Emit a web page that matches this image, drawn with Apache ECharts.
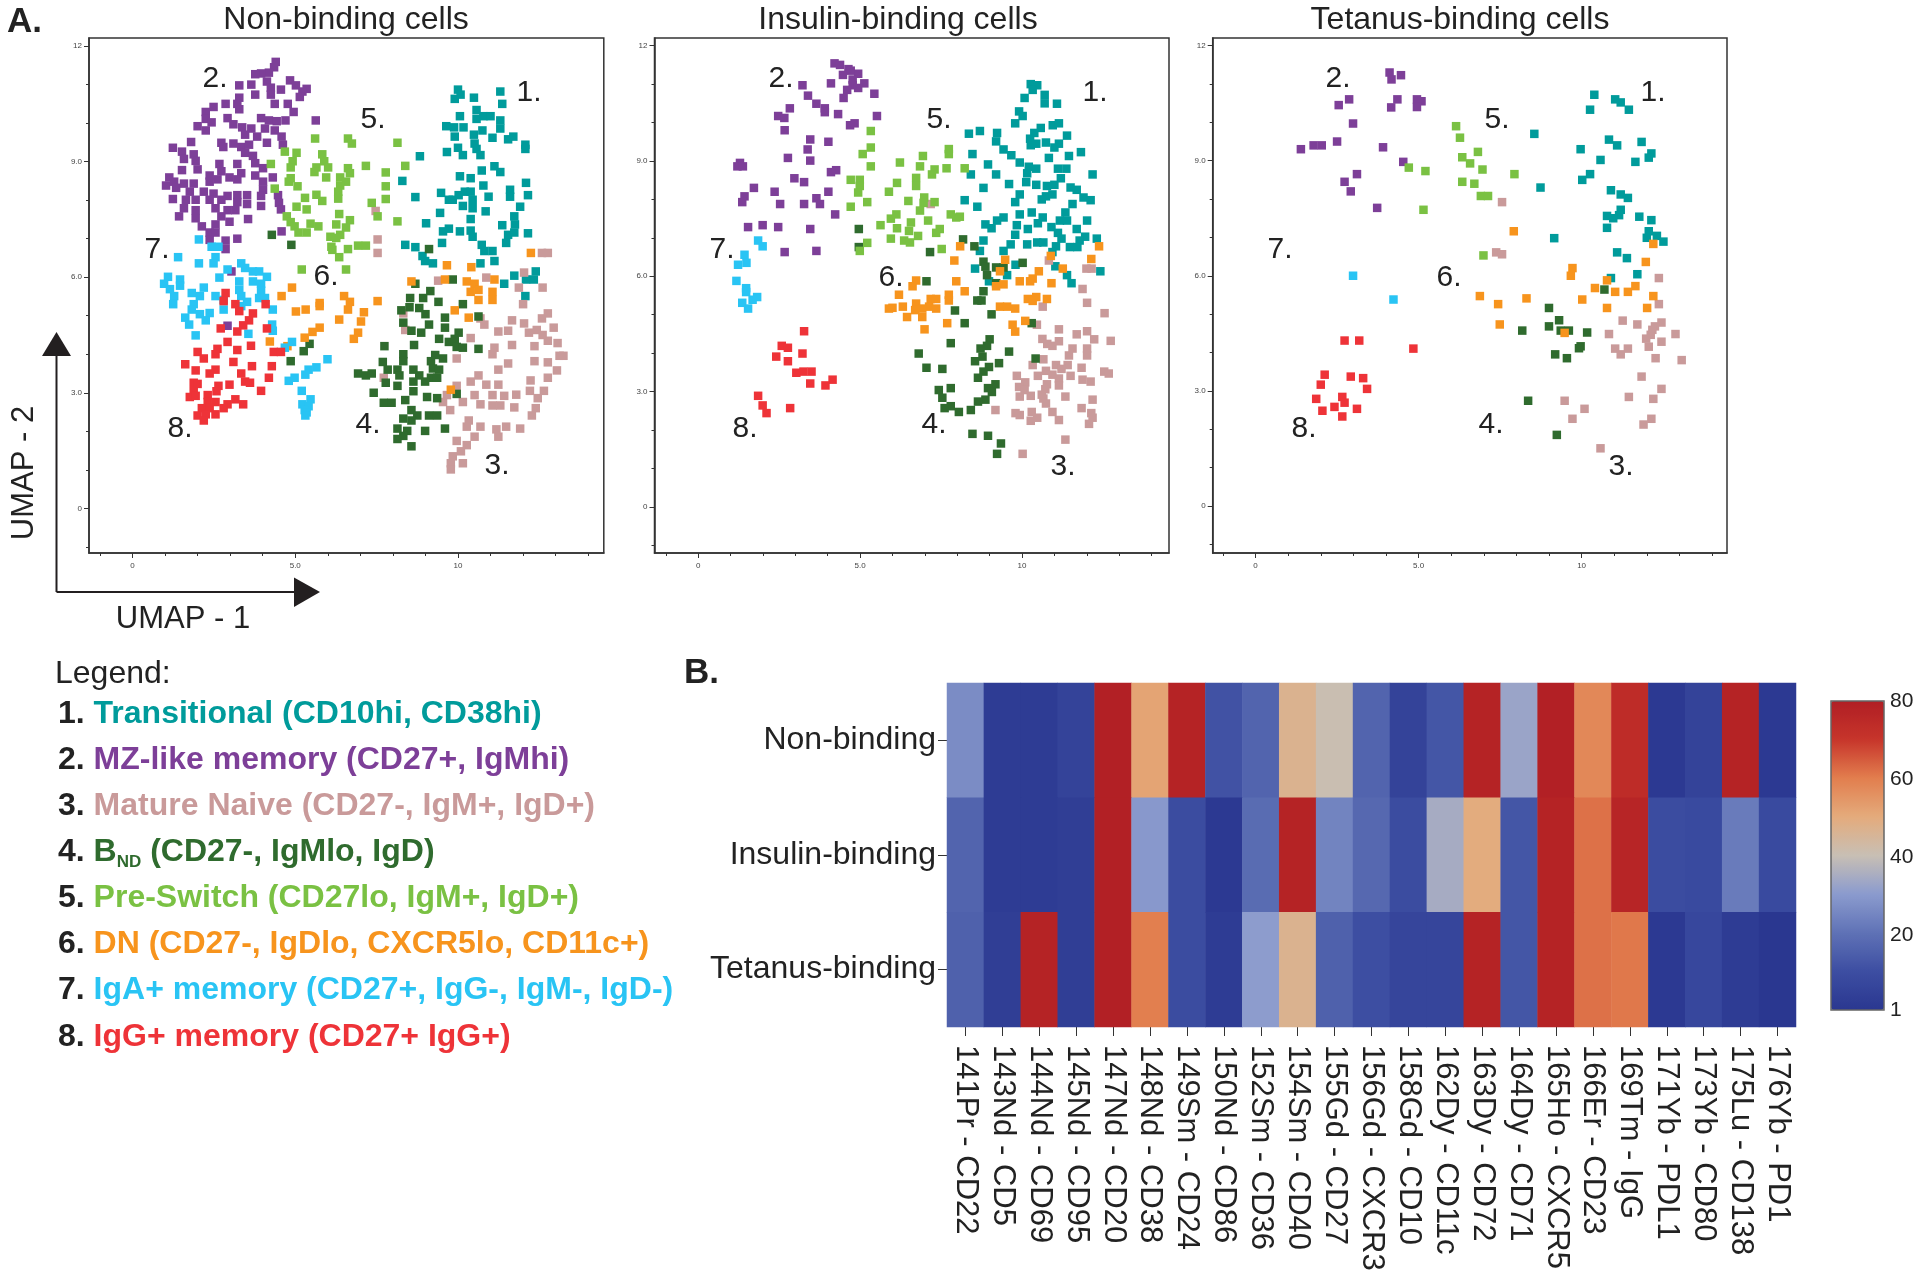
<!DOCTYPE html>
<html><head><meta charset="utf-8">
<style>html,body{margin:0;padding:0;background:#fff}#c{width:1920px;height:1279px}</style>
<script src="https://cdn.jsdelivr.net/npm/echarts@6/dist/echarts.min.js"></script>
</head><body><div id="c"></div>
<script>
// ---- Panel 1: Non-binding cells (UMAP-1, UMAP-2) ----
const nonTransitional=[[10,10.87],[9.9,10.63],[10.08,10.74],[10.49,10.66],[11.3,10.82],[11.36,10.5],[10.06,10.18],[10.57,10.34],[10.57,10.11],[10.78,10.18],[11,10.18],[11.3,10.07],[11.3,9.86],[9.64,9.92],[9.88,9.89],[10.17,9.89],[9.9,9.65],[10.49,9.7],[10.75,9.81],[11.06,9.62],[11.54,9.58],[11.7,9.65],[12.07,9.44],[12.07,9.33],[10,9.36],[10.51,9.47],[10.57,9.33],[9.66,9.25],[10.15,9.17],[10.69,9.17],[8.83,9.14],[10.73,8.77],[11.12,8.88],[11.3,8.73],[10.06,8.62],[10.39,8.57],[8.29,8.5],[12.09,8.45],[10.78,8.38],[11.6,8.27],[11.6,8.09],[9.48,8.19],[9.72,8.01],[9.84,8.01],[10.02,8.13],[10.21,8.22],[10.39,8.22],[10.45,8.01],[10.45,7.79],[10.15,7.85],[8.69,8.08],[10.94,8.09],[12.15,8.13],[11.91,7.83],[9.45,7.67],[10.85,7.71],[11.73,7.58],[10.39,7.51],[11.75,7.37],[9.02,7.4],[11.36,7.35],[9.72,7.26],[9.54,7.19],[10.06,7.19],[10.39,7.21],[10.45,7.05],[11.54,7.1],[11.73,7.16],[12.15,7.14],[11.48,6.89],[9.51,6.89],[8.38,6.84],[8.69,6.78],[10.73,6.84],[10.81,6.68],[11.06,6.68],[8.91,6.55],[8.99,6.42],[9.23,6.36],[10.69,6.36],[11.12,6.42],[12.39,6.15],[11.73,6.04],[11.42,5.83],[12.09,5.94],[12.33,5.94],[12.07,5.51]];
const nonMZ=[[4.4,11.59],[4.35,11.45],[4.19,11.31],[3.95,11.29],[3.77,11.27],[4.13,11.08],[3.28,10.98],[3.65,11],[4.25,10.92],[4.25,10.74],[4.56,10.87],[4.84,11.11],[5.02,10.98],[5.35,10.89],[5.22,10.82],[5.14,10.68],[3.77,10.74],[3.28,10.66],[3.22,10.5],[2.86,10.5],[3.28,10.36],[2.49,10.42],[2.25,10.29],[4.37,10.5],[4.77,10.5],[4.95,10.29],[2.25,10.11],[2.43,10.02],[2,9.92],[2.25,9.81],[2.92,10.13],[3.1,9.97],[3.37,9.89],[3.95,10.13],[4.19,10.07],[4.43,10.05],[4.7,10.07],[5.63,10.07],[3.65,9.86],[4.07,9.86],[4.37,9.81],[4.58,9.65],[3.46,9.7],[3.83,9.65],[4.13,9.49],[4.62,9.44],[2.73,9.49],[1.8,9.51],[3.1,9.47],[3.34,9.38],[3.58,9.44],[2.79,9.38],[1.24,9.36],[1.52,9.26],[1.88,9.19],[3.46,9.23],[3.7,9.15],[1.58,9.07],[1.94,9.02],[2.67,8.94],[3.22,8.94],[3.77,8.96],[4.01,8.83],[1.52,8.78],[2,8.8],[2.73,8.75],[3.34,8.7],[3.77,8.64],[2.37,8.64],[2.98,8.59],[2.37,8.48],[2.61,8.54],[3.22,8.54],[4.31,8.59],[1.13,8.59],[1.03,8.38],[1.28,8.48],[1.58,8.43],[1.88,8.43],[4.01,8.48],[4.01,8.27],[1.34,8.32],[1.76,8.22],[2.19,8.22],[2.49,8.17],[2.92,8.11],[3.22,8.13],[3.52,8.13],[3.95,8.11],[4.47,8.13],[1.24,8.03],[1.64,8.01],[1.94,8.01],[2.37,8.01],[2.73,8.01],[3.22,7.95],[3.52,7.9],[4.5,7.93],[3.95,7.85],[4.56,7.76],[1.58,7.79],[1.94,7.74],[2.55,7.79],[2.92,7.74],[3.16,7.74],[1.43,7.58],[1.94,7.53],[2.73,7.58],[2.98,7.44],[3.55,7.51],[2.13,7.32],[2.55,7.37],[2.37,7.16],[2.55,7.16],[4.58,7.19],[3.22,7],[2.37,6.97],[2.86,6.95],[2.86,6.73],[3.04,6.15],[2.92,4.74]];
const nonNaive=[[7.47,7.72],[7.53,6.98],[7.53,6.63],[12.58,6.63],[12.76,6.63],[12.03,6.12],[10.87,5.99],[9.39,5.91],[11.87,5.73],[12.6,5.73],[12,5.3],[8.32,5.06],[12.76,5.06],[12.58,4.93],[10.69,4.93],[11.66,4.88],[10.81,4.77],[8.38,4.63],[12.03,4.8],[12.94,4.69],[11.24,4.59],[11.54,4.61],[12.18,4.56],[12.42,4.63],[10.39,4.42],[12.6,4.5],[12.76,4.35],[13.06,4.29],[11.66,4.24],[11.12,4.17],[12.35,4.21],[11.06,4],[9.96,3.89],[13.12,3.96],[13.24,3.96],[11.54,3.76],[12.35,3.82],[12.76,3.79],[11.24,3.6],[13.04,3.58],[7.72,3.39],[10.63,3.45],[12.76,3.39],[10.39,3.29],[10.87,3.21],[11.24,3.21],[12.23,3.32],[9.96,3.18],[12.21,3.05],[12.64,3.05],[9.66,2.94],[10.51,2.94],[11.06,2.94],[11.42,2.92],[11.79,2.95],[12.45,2.86],[9.54,2.76],[10.15,2.76],[10.69,2.7],[11.06,2.67],[11.3,2.67],[11.73,2.62],[12.39,2.6],[9.76,2.55],[12.27,2.41],[10.33,2.28],[10.27,2.12],[10.69,2.12],[11.48,2.12],[11.18,2.05],[11.91,2.07],[11.24,1.86],[10.51,1.86],[9.96,1.75],[10.27,1.64],[10.09,1.48],[9.84,1.35],[9.78,1.17],[10.15,1.17],[9.78,1.01]];
const nonBND=[[4.28,7.1],[4.88,6.84],[9.11,6.73],[9.84,5.94],[8.69,5.83],[9.15,5.64],[8.93,5.46],[8.53,5.46],[9.4,5.36],[10.15,5.3],[8.51,5.22],[8.81,5.2],[8.26,5.14],[9,5.04],[9.6,4.95],[10.63,4.98],[8.32,4.82],[9.11,4.77],[9.6,4.69],[10.02,4.56],[8.57,4.61],[8.87,4.56],[9.42,4.4],[9.72,4.32],[9.9,4.4],[7.74,4.21],[8.65,4.24],[9.96,4.19],[10.15,4.17],[10.63,4.14],[8.32,4],[9.3,3.98],[9.54,3.89],[5.26,4.08],[5.44,4.27],[4.86,3.82],[7.69,3.8],[8.32,3.82],[9.17,3.82],[7.84,3.6],[6.93,3.5],[7.17,3.45],[7.35,3.5],[8.14,3.6],[8.63,3.6],[9.23,3.63],[9.42,3.6],[8.2,3.45],[8.81,3.45],[9.17,3.39],[9.36,3.39],[7.78,3.26],[8.63,3.29],[8.99,3.29],[8.14,3.18],[7.41,3],[8.63,3.04],[9.96,2.97],[9.05,2.89],[9.36,2.86],[8.38,2.81],[7.72,2.74],[7.96,2.74],[8.57,2.55],[9.11,2.41],[9.36,2.41],[8.32,2.33],[8.75,2.41],[8.57,2.28],[8.14,2.07],[8.99,2.01],[9.6,2.07],[8.44,2.01],[8.32,1.88],[8.14,1.8],[8.57,1.61]];
const nonPreSwitch=[[5.61,9.6],[6.62,9.6],[6.74,9.47],[8.14,9.49],[4.68,9.26],[5.04,9.23],[5.83,9.19],[4.92,9.01],[4.86,8.85],[4.25,8.94],[5.89,9.01],[5.65,8.85],[6.01,8.85],[5.59,8.73],[6.62,8.83],[7.17,8.89],[8.38,8.89],[7.78,8.72],[6.68,8.7],[6.38,8.59],[5.95,8.59],[4.86,8.57],[6.56,8.48],[4.8,8.48],[7.78,8.36],[6.38,8.38],[4.37,8.3],[5.07,8.36],[6.32,8.22],[5.3,8.06],[5.65,8.14],[5.83,7.98],[6.32,8.04],[7.78,8.03],[7.35,7.93],[5.04,7.83],[5.35,7.76],[4.74,7.58],[7.53,7.58],[6.35,7.64],[8.14,7.45],[4.86,7.43],[4.98,7.32],[5.47,7.39],[5.71,7.32],[6.68,7.48],[6.26,7.37],[6.56,7.29],[5.1,7.16],[5.35,7.16],[6.38,7.1],[6.08,7.05],[6.26,7.02],[6.11,6.79],[6.14,6.71],[6.62,6.73],[6.93,6.82],[7.17,6.82],[6.35,6.52],[5.2,6.2],[6.56,6.2]];
const nonDN=[[12.24,6.63],[9.66,6.31],[10.41,6.26],[9.6,5.94],[8.57,5.89],[10.27,5.89],[10.51,5.83],[11.12,5.94],[10.39,5.62],[10.63,5.67],[11.06,5.62],[4.9,5.73],[4.58,5.51],[6.5,5.51],[11.06,5.41],[10.63,5.41],[7.53,5.38],[6.68,5.36],[5.75,5.33],[5.75,5.25],[6.62,5.16],[9.9,5.14],[5.02,5.11],[5.32,5.16],[7.11,5.09],[6.35,4.9],[10.33,4.95],[7.02,4.85],[5.75,4.69],[5.53,4.58],[6.93,4.56],[5.29,4.43],[6.8,4.4],[4.22,4.33],[4.76,4.21],[9.78,3.08]];
const nonIgA=[[2.04,6.98],[2.43,6.79],[2.64,6.79],[1.4,6.52],[2.55,6.52],[2.04,6.36],[2.49,6.36],[3.34,6.36],[3.46,6.24],[2.92,6.2],[3.7,6.15],[3.89,6.15],[4.13,6.01],[2.67,5.99],[1.09,6.01],[1.46,5.94],[3.28,5.89],[3.7,5.89],[0.97,5.83],[3.95,5.83],[1.46,5.78],[1.15,5.69],[2.19,5.73],[3.28,5.67],[3.95,5.65],[1.82,5.59],[3.89,5.46],[1.28,5.51],[2.07,5.51],[2.55,5.51],[3.34,5.51],[4.07,5.46],[1.25,5.3],[1.88,5.3],[3.52,5.36],[3.34,5.25],[2.8,5.41],[4.31,5.16],[2.8,5.16],[1.82,5.16],[2.07,5.04],[2.37,5.07],[1.62,4.95],[2.25,4.88],[1.74,4.77],[4.29,4.77],[4.31,4.61],[3.56,4.53],[1.94,4.49],[4.9,4.32],[4.68,4.17],[5.99,3.87],[5.65,3.66],[5.41,3.6],[5.31,3.47],[4.98,3.39],[4.8,3.31],[5.2,3.05],[5.47,2.83],[5.22,2.7],[5.41,2.65],[5.29,2.55],[5.35,2.49],[5.31,2.41]];
const nonIgG=[[2.86,5.59],[2.8,5.38],[3.16,5.3],[3.28,5.12],[4.09,5.3],[3.7,5.06],[3.58,4.88],[3.4,4.75],[2.71,4.67],[3.22,4.59],[4.13,4.67],[2.92,4.32],[3.64,4.22],[2.61,4.14],[3.22,4.11],[2,4.06],[4.34,4.06],[4.56,4.06],[2.55,4],[2.19,3.89],[1.62,3.74],[3.1,3.8],[3.67,3.69],[4.28,3.69],[1.94,3.58],[2.55,3.6],[2.37,3.5],[3.34,3.5],[3.46,3.29],[4.19,3.39],[3.61,3.26],[1.88,3.26],[2,3.23],[2.98,3.21],[2.64,3.18],[3.95,3.05],[1.88,3.04],[2.58,3.04],[1.76,2.89],[1.94,2.92],[2.31,2.94],[3.16,2.83],[2.31,2.76],[2.55,2.76],[2.92,2.7],[3.4,2.7],[2.13,2.6],[2.37,2.6],[2.8,2.6],[2,2.41],[2.25,2.44],[2.55,2.44],[2.19,2.28]];

// ---- Panel 2: Insulin-binding cells ----
const insTransitional=[[10.27,11],[10.47,10.97],[10.33,10.85],[10.7,10.72],[10.08,10.64],[10.7,10.5],[11.08,10.49],[9.91,10.29],[10.02,10.17],[9.79,9.98],[10.95,9.93],[11.14,9.98],[10.58,9.86],[8.36,9.71],[8.7,9.78],[9.23,9.73],[10.38,9.73],[11.39,9.66],[9.2,9.51],[10.25,9.58],[10.74,9.48],[10.27,9.41],[10.44,9.45],[11.14,9.45],[11,9.35],[9.43,9.3],[11.82,9.23],[8.47,9.18],[9.67,9.15],[11.45,9.13],[10.83,9.08],[9.93,8.96],[8.95,8.91],[10.21,8.85],[10.44,8.8],[11.11,8.8],[11.37,8.8],[8.42,8.65],[9.2,8.65],[10.16,8.68],[12.18,8.65],[10.13,8.45],[11.2,8.55],[10.44,8.38],[9.6,8.4],[10.77,8.35],[11,8.38],[8.81,8.3],[11.5,8.31],[11.69,8.25],[9.93,8.13],[10.74,8.08],[10.94,8.13],[11.9,8.05],[12.12,7.98],[10.61,8],[8.23,7.98],[9.79,7.93],[11.56,7.88],[8.62,7.81],[10.3,7.66],[11.34,7.66],[9.93,7.61],[9.43,7.53],[10.64,7.53],[9.23,7.45],[11.17,7.45],[11.39,7.45],[12.01,7.45],[10.49,7.38],[8.87,7.35],[9.84,7.33],[10.91,7.28],[9.06,7.25],[10.18,7.23],[11.69,7.23],[11.11,7.13],[9.79,7.08],[11.22,6.98],[11.95,7.03],[12.31,6.98],[8.81,6.93],[10.16,6.83],[10.47,6.88],[10.66,6.88],[9.65,6.83],[11.78,6.93],[11.05,6.78],[11.48,6.76],[11.71,6.76],[8.7,6.66],[9.43,6.66],[10.94,6.63],[9.8,6.3],[11.03,6.26],[8.55,6.2],[9.54,6.03],[11.39,6.03],[12.42,6.13],[8.98,5.87],[11.53,5.82]];
const insMZ=[[4.21,11.54],[4.38,11.5],[4.64,11.39],[4.47,11.24],[4.94,11.27],[4.71,11.35],[4.1,11.02],[4.77,11.12],[5.13,11.02],[4.77,10.97],[4.94,10.9],[4.6,10.85],[3.22,10.97],[5.44,10.75],[4.49,10.64],[3.39,10.7],[3.65,10.49],[3.91,10.37],[2.83,10.37],[3.91,10.27],[4.32,10.22],[2.47,10.17],[2.66,10.12],[5.52,10.17],[4.83,9.98],[4.69,9.93],[2.67,9.8],[3.46,9.56],[4.02,9.5],[3.38,9.3],[2.77,9.08],[3.46,9.01],[1.29,8.95],[1.21,8.86],[1.38,8.86],[4.1,8.71],[4.26,8.76],[2.97,8.55],[3.27,8.45],[1.72,8.3],[2.36,8.2],[4.02,8.2],[1.43,8.08],[3.65,8.03],[1.36,7.93],[2.53,7.88],[3.27,7.88],[3.76,7.88],[4.23,7.61],[1.54,7.28],[1.99,7.33],[2.47,7.28],[3.46,7.23],[2.67,6.63],[3.65,6.66]];
const insNaive=[[7.18,7.88],[10.83,6.41],[11.99,6.2],[12.15,6.2],[11.87,5.67],[12.01,5.31],[10.64,5.21],[12.55,5.04],[10.46,4.74],[11.14,4.62],[12.01,4.57],[11.69,4.49],[10.63,4.37],[12.23,4.36],[12.74,4.32],[10.78,4.24],[10.94,4.19],[11.14,4.31],[11.56,4.12],[12.01,4.12],[11.45,3.94],[12.01,3.94],[10.66,3.84],[10.33,3.69],[11.05,3.69],[11.41,3.69],[11.84,3.62],[11.22,3.59],[10.74,3.54],[12.54,3.52],[12.68,3.47],[10.49,3.41],[10.94,3.44],[11.5,3.41],[9.84,3.41],[11.14,3.34],[11.87,3.31],[12.12,3.26],[10.1,3.24],[10.77,3.19],[9.91,3.12],[11.14,3.16],[10.08,3.04],[10.72,3.06],[9.93,2.87],[10.27,2.89],[10.61,2.92],[11.34,2.87],[10.66,2.82],[12.18,2.79],[10.74,2.69],[11.84,2.57],[9.18,2.52],[10.94,2.47],[12.14,2.44],[9.8,2.44],[9.93,2.39],[10.3,2.47],[10.47,2.32],[10.27,2.24],[12.18,2.32],[11.14,2.26],[12.07,2.16],[11.34,1.75],[10.02,1.38]];
const insBND=[[4.96,7.23],[4.96,6.76],[8.18,6.96],[8.53,6.78],[7.16,6.63],[8.81,6.38],[10.02,6.35],[8.87,6.25],[9.2,6.23],[9.43,6.23],[8.92,6.03],[9.2,5.82],[7.05,5.87],[8.81,5.61],[8.62,5.37],[8.75,5.37],[7.93,5.11],[9.06,5.01],[8.23,4.78],[10.3,4.78],[9,4.36],[8.92,4.19],[7.8,4.26],[8.72,4.12],[8.78,3.91],[9.6,4.04],[6.81,3.99],[8.55,3.79],[9.29,3.74],[10.42,3.86],[7.05,3.62],[7.54,3.59],[8.98,3.64],[8.81,3.52],[8.64,3.36],[9.18,3.19],[8.95,3.09],[9.07,2.99],[7.8,3.09],[7.43,3.04],[7.54,2.84],[8.87,2.79],[8.64,2.74],[7.8,2.62],[7.61,2.57],[8.05,2.47],[8.42,2.52],[8.47,1.9],[8.95,1.85],[9.35,1.65],[9.23,1.38]];
const insPreSwitch=[[5.33,9.78],[5.33,9.35],[5.08,9.18],[7.74,9.31],[7.74,9.18],[6.94,9.13],[6.23,8.96],[5.33,8.86],[6.85,8.86],[7.3,8.78],[7.67,8.81],[8.23,8.81],[7.22,8.65],[4.71,8.51],[4.99,8.51],[6.73,8.56],[6.14,8.43],[4.99,8.35],[6.73,8.35],[4.94,8.18],[5.89,8.2],[6.98,8.05],[6.49,7.96],[5.22,7.93],[6.96,7.91],[7.3,7.93],[4.71,7.81],[6.85,7.71],[6.12,7.61],[7.8,7.61],[5.95,7.5],[7.97,7.53],[8.08,7.55],[7.1,7.45],[6.57,7.4],[5.63,7.33],[6.14,7.25],[6.51,7.18],[7.46,7.23],[7.35,7.13],[6.79,7.05],[5.95,6.98],[6.36,6.93],[6.54,6.88],[5.22,6.87],[7.52,6.71],[4.99,6.66]];
const insDN=[[12.38,6.78],[8.09,6.78],[9.48,6.43],[12.14,6.45],[10.89,6.53],[7.91,6.41],[11.26,6.2],[10.52,6.13],[9.32,6.13],[10.33,5.94],[9.93,5.87],[10.25,5.87],[6.73,5.89],[7.97,5.87],[6.62,5.74],[10.91,5.82],[9.43,5.79],[9.2,5.74],[6.2,5.52],[8.23,5.61],[7.74,5.52],[7.18,5.41],[7.35,5.41],[10.18,5.41],[10.44,5.46],[10.33,5.36],[10.77,5.41],[7.74,5.37],[6.73,5.29],[5.89,5.16],[6.32,5.21],[7.13,5.21],[7.35,5.16],[6.7,5.12],[6.92,5.16],[9.32,5.21],[9.54,5.21],[9.79,5.16],[6,5.18],[6.45,4.94],[6.92,4.94],[7.69,4.78],[9.71,4.74],[10.1,4.84],[6.99,4.62],[9.79,4.56]];
const insIgA=[[1.85,6.93],[1.99,6.78],[1.43,6.56],[1.49,6.35],[1.23,6.3],[1.18,5.88],[1.48,5.69],[1.48,5.59],[1.82,5.46],[1.68,5.39],[1.36,5.31],[1.54,5.16]];
const insIgG=[[3.27,4.57],[2.58,4.19],[2.77,4.14],[3.22,3.99],[2.41,3.91],[2.77,3.79],[3.03,3.49],[3.25,3.52],[3.5,3.52],[3.46,3.21],[4.15,3.31],[3.93,3.16],[1.85,2.89],[1.99,2.64],[2.11,2.44],[2.84,2.57]];

// ---- Panel 3: Tetanus-binding cells ----
const tetTransitional=[[10.39,10.72],[11.03,10.6],[11.2,10.52],[11.45,10.33],[10.26,10.33],[8.55,9.7],[10.84,9.55],[11.84,9.49],[11.09,9.4],[9.97,9.3],[12.14,9.19],[12.06,9.08],[10.58,9.02],[11.65,8.97],[10.26,8.65],[10.02,8.5],[8.74,8.3],[10.9,8.23],[11.2,8.12],[11.42,8.03],[11.2,7.72],[11.15,7.58],[10.78,7.56],[10.97,7.5],[11.77,7.54],[12.14,7.45],[10.78,7.25],[12.06,7.16],[12,6.99],[12.31,7.04],[9.16,6.98],[12.51,6.89],[11.09,6.61],[11.39,6.46],[11.71,6.04],[10.9,5.94]];
const tetMZ=[[4.11,11.3],[4.17,11.12],[4.46,11.23],[2.87,10.6],[2.55,10.45],[4.35,10.6],[4.16,10.39],[4.95,10.6],[5.09,10.55],[4.95,10.4],[2.99,9.97],[2.5,9.5],[1.39,9.3],[1.78,9.4],[2.03,9.4],[3.91,9.35],[4.53,8.97],[3.11,8.65],[2.73,8.45],[2.92,8.2],[3.73,7.77]];
const tetNaive=[[7.56,7.92],[7.38,6.61],[7.56,6.56],[12.37,5.94],[12.37,5.26],[11.26,4.83],[12.45,4.78],[11.71,4.73],[12.25,4.68],[12.17,4.59],[10.84,4.48],[12.88,4.48],[11.98,4.36],[12.12,4.46],[12.45,4.28],[12.06,4.15],[11.03,4.1],[11.42,4.1],[11.2,3.95],[12.27,3.85],[13.07,3.8],[11.84,3.37],[12.45,3.05],[11.45,2.84],[12.2,2.79],[9.48,2.74],[10.09,2.53],[9.72,2.27],[12.14,2.27],[11.9,2.12],[10.58,1.5]];
const tetBND=[[10.7,5.64],[9,5.16],[9.31,4.84],[9,4.68],[8.18,4.57],[9.36,4.57],[9.61,4.57],[10.17,4.52],[9.97,4.16],[9.92,4.11],[9.19,3.95],[9.55,3.85],[8.36,2.74],[9.24,1.85]];
const tetPreSwitch=[[6.15,9.9],[6.27,9.6],[6.82,9.23],[6.34,9.09],[6.58,8.93],[4.7,8.82],[5.21,8.73],[6.96,8.77],[7.94,8.65],[6.34,8.45],[6.71,8.4],[6.91,8.08],[7.13,8.08],[5.15,7.72],[6.99,6.53]];
const tetDN=[[7.92,7.16],[12.2,6.83],[11.97,6.36],[9.72,6.2],[9.67,6],[10.78,5.88],[10.41,5.68],[11.03,5.58],[11.42,5.58],[11.65,5.73],[6.88,5.47],[8.31,5.41],[10.02,5.38],[12.2,5.47],[7.44,5.26],[10.78,5.16],[12.01,5.16],[7.49,4.73],[9.48,4.51]];
const tetIgA=[[2.99,6],[4.23,5.38]];
const tetIgG=[[2.73,4.31],[3.18,4.31],[4.84,4.1],[2.12,3.42],[2.92,3.37],[3.3,3.33],[2,3.16],[3.42,3.05],[1.86,2.79],[2.66,2.84],[2.73,2.69],[2.05,2.48],[2.42,2.58],[3.11,2.53],[2.66,2.33]];

// ---- Panel B: heatmap ----
const heatRows=['Non-binding','Insulin-binding','Tetanus-binding'];
const heatMarkers=['141Pr - CD22','143Nd - CD5','144Nd - CD69','145Nd - CD95','147Nd - CD20','148Nd - CD38','149Sm - CD24','150Nd - CD86','152Sm - CD36','154Sm - CD40','155Gd - CD27','156Gd - CXCR3','158Gd - CD10','162Dy - CD11c','163Dy - CD72','164Dy - CD71','165Ho - CXCR5','166Er - CD23','169Tm - IgG','171Yb - PDL1','173Yb - CD80','175Lu - CD138','176Yb - PD1'];
const heatNon=[27,3,3,6,79,52,78,12,17,47,41,17,6,13,78,33,79,58,74,2,6,78,2];
const heatIns=[17,3,3,4,79,30,10,2,19,78,25,18,10,35,50,13,78,62,77,10,9,23,9];
const heatTet=[16,4,78,4,79,60,10,3,31,47,16,11,7,7,78,13,78,62,61,2,8,3,1];
const colorStops=['#2a3790','#3d4ea2','#5f72b6','#8b9bce','#c8bfb4','#e4ab7c','#e27e4e','#c7352b','#b01e24'];
const barTicks=[1,20,40,60,80];

const clusterColors=['#009b9b','#7d3f98','#c99a9a','#2f6b2e','#7ac143','#f7941d','#29c4f4','#ee3338'];
const clusterOrder=['Transitional','MZ','Naive','BND','PreSwitch','DN','IgA','IgG'];
const panels=[
 {title:'Non-binding cells',cx:346,left:89,width:514.8,top:38,height:515,xr:[-1.337,14.48],yr:[-1.16,12.21],
  sets:[nonTransitional,nonMZ,nonNaive,nonBND,nonPreSwitch,nonDN,nonIgA,nonIgG],
  nums:[[529,93],[215,79],[497,466],[368,425],[373,120],[326,277],[157,250],[180,429]]},
 {title:'Insulin-binding cells',cx:898,left:654.5,width:514.5,top:38,height:515,xr:[-1.35,14.54],yr:[-1.2,12.2],
  sets:[insTransitional,insMZ,insNaive,insBND,insPreSwitch,insDN,insIgA,insIgG],
  nums:[[1095,93],[781,79],[1063,467],[934,425],[939,120],[891,278],[722,250],[745,429]]},
 {title:'Tetanus-binding cells',cx:1460,left:1212.7,width:514.3,top:38,height:515,xr:[-1.315,14.46],yr:[-1.23,12.2],
  sets:[tetTransitional,tetMZ,tetNaive,tetBND,tetPreSwitch,tetDN,tetIgA,tetIgG],
  nums:[[1653,93],[1338,79],[1621,467],[1491,425],[1497,120],[1449,278],[1280,250],[1304,429]]}
];
const FONT='"Liberation Sans", Arial, sans-serif';
const xMajor=[0,5,10], xMinor=[-1,1,2,3,4,6,7,8,9,11,12,13,14];
const yMajor=[0,3,6,9,12], yMinor=[-1,1,2,4,5,7,8,10,11];
const xText={0:'0',5:'5.0',10:'10'}, yText={0:'0',3:'3.0',6:'6.0',9:'9.0',12:'12'};

const grid=[],xAxis=[],yAxis=[],series=[],graphic=[];
const axisColor='#333';
panels.forEach((p,i)=>{
  grid.push({left:p.left,top:p.top,width:p.width,height:p.height,show:true,borderColor:'#333',borderWidth:1.5,backgroundColor:'#fff'});
  xAxis.push({type:'value',gridIndex:i,min:p.xr[0],max:p.xr[1],position:'bottom',splitLine:{show:false},
    axisLine:{onZero:false,lineStyle:{color:axisColor,width:1.5}},
    axisTick:{length:5,customValues:xMajor,lineStyle:{color:axisColor}},
    axisLabel:{customValues:xMajor,fontSize:8,color:'#444',margin:9,formatter:v=>xText[v]}});
  yAxis.push({type:'value',gridIndex:i,min:p.yr[0],max:p.yr[1],position:'left',splitLine:{show:false},
    axisLine:{onZero:false,lineStyle:{color:axisColor,width:1.5}},
    axisTick:{length:5,customValues:yMajor,lineStyle:{color:axisColor}},
    axisLabel:{customValues:yMajor,fontSize:8,color:'#444',margin:7,formatter:v=>yText[v]}});
  p.sets.forEach((d,k)=>series.push({type:'scatter',name:clusterOrder[k],xAxisIndex:i,yAxisIndex:i,data:d,symbol:'rect',symbolSize:8.5,
    itemStyle:{color:clusterColors[k],opacity:1},silent:true,animation:false}));
  graphic.push({type:'text',x:p.cx,y:20,style:{text:p.title,font:'32px '+FONT,fill:'#222',align:'center',verticalAlign:'middle'}});
  p.nums.forEach((n,k)=>graphic.push({type:'text',x:n[0],y:n[1],z:50,style:{text:(k+1)+'.',font:'30px '+FONT,fill:'#222',align:'center',verticalAlign:'middle'}}));
});
// minor ticks: secondary axes sharing the panel grids
panels.forEach((p,i)=>{
  xAxis.push({type:'value',gridIndex:i,min:p.xr[0],max:p.xr[1],position:'bottom',splitLine:{show:false},axisLine:{show:false,onZero:false},
    axisTick:{length:3,customValues:xMinor,lineStyle:{color:axisColor}},axisLabel:{show:false}});
  yAxis.push({type:'value',gridIndex:i,min:p.yr[0],max:p.yr[1],position:'left',splitLine:{show:false},axisLine:{show:false,onZero:false},
    axisTick:{length:3,customValues:yMinor,lineStyle:{color:axisColor}},axisLabel:{show:false}});
});
// heatmap
const heatGrid=grid.length;
grid.push({left:947,top:683,width:849,height:344});
xAxis.push({type:'category',gridIndex:heatGrid,data:heatMarkers,position:'bottom',axisLine:{show:false},
  axisTick:{show:true,alignWithLabel:true,length:9,lineStyle:{color:'#333'}},splitLine:{show:false},
  axisLabel:{rotate:-90,interval:0,fontSize:31,color:'#222',margin:18,fontFamily:FONT}});
yAxis.push({type:'category',gridIndex:heatGrid,data:heatRows,inverse:true,axisLine:{show:false},
  axisTick:{show:true,alignWithLabel:true,length:9,lineStyle:{color:'#333'}},splitLine:{show:false},
  axisLabel:{interval:0,fontSize:32,color:'#222',margin:11,fontFamily:FONT}});
const heatData=[];
[heatNon,heatIns,heatTet].forEach((row,r)=>row.forEach((v,c)=>heatData.push([c,r,v])));
const heatSeriesIndex=series.length;
series.push({type:'heatmap',xAxisIndex:xAxis.length-1,yAxisIndex:yAxis.length-1,data:heatData,silent:true,animation:false,progressive:0,itemStyle:{borderWidth:0}});
// colour-bar scale
const barGrid=grid.length;
grid.push({left:1831,top:701,width:53,height:309,show:true,borderColor:'#666',borderWidth:1.5,backgroundColor:'transparent',z:10});
xAxis.push({type:'value',gridIndex:barGrid,show:false,min:0,max:1});
yAxis.push({type:'value',gridIndex:barGrid,min:1,max:80,position:'right',splitLine:{show:false},axisLine:{show:false},axisTick:{show:false},
  axisLabel:{customValues:barTicks,fontSize:21,color:'#222',margin:6,fontFamily:FONT}});

// panel letters
graphic.push({type:'text',x:7,y:22,style:{text:'A.',font:'bold 35px '+FONT,fill:'#222',verticalAlign:'middle'}});
graphic.push({type:'text',x:684,y:673,style:{text:'B.',font:'bold 35px '+FONT,fill:'#222',verticalAlign:'middle'}});
// UMAP arrows
const ink='#231f20';
graphic.push({type:'line',shape:{x1:56.5,y1:592,x2:56.5,y2:350},style:{stroke:ink,lineWidth:2}});
graphic.push({type:'line',shape:{x1:56.5,y1:592,x2:298,y2:592},style:{stroke:ink,lineWidth:2}});
graphic.push({type:'polygon',shape:{points:[[56.5,332],[42,356],[71,356]]},style:{fill:ink}});
graphic.push({type:'polygon',shape:{points:[[320,592],[294,577.5],[294,607]]},style:{fill:ink}});
graphic.push({type:'text',x:183,y:619,style:{text:'UMAP - 1',font:'31px '+FONT,fill:'#222',align:'center',verticalAlign:'middle'}});
graphic.push({type:'text',x:24,y:473,rotation:Math.PI/2,style:{text:'UMAP - 2',font:'31px '+FONT,fill:'#222',align:'center',verticalAlign:'middle'}});
// legend
graphic.push({type:'text',x:55,y:674,style:{text:'Legend:',font:'32px '+FONT,fill:'#222',verticalAlign:'middle'}});
const legendLines=['Transitional (CD10hi, CD38hi)','MZ-like memory (CD27+, IgMhi)','Mature Naive (CD27-, IgM+, IgD+)',' (CD27-, IgMlo, IgD)','Pre-Switch (CD27lo, IgM+, IgD+)','DN (CD27-, IgDlo, CXCR5lo, CD11c+)','IgA+ memory (CD27+, IgG-, IgM-, IgD-)','IgG+ memory (CD27+ IgG+)'];
legendLines.forEach((t,k)=>{
  const body=k===3?'{c|B}{s|ND}{c|'+t+'}':'{c|'+t+'}';
  graphic.push({type:'text',x:58,y:714+k*46.1,style:{text:'{n|'+(k+1)+'. }'+body,verticalAlign:'middle',
    rich:{n:{font:'bold 32px '+FONT,fill:'#222',lineHeight:38},
          c:{font:'bold 32px '+FONT,fill:clusterColors[k],lineHeight:38},
          s:{font:'bold 17px '+FONT,fill:clusterColors[k],lineHeight:38,verticalAlign:'bottom'}}}});
});

const chart=echarts.init(document.getElementById('c'),null,{renderer:'canvas'});
chart.setOption({animation:false,backgroundColor:'#fff',textStyle:{fontFamily:FONT},
  grid,xAxis,yAxis,series,graphic,
  visualMap:[{type:'continuous',min:1,max:80,seriesIndex:heatSeriesIndex,left:1831,top:701,itemWidth:53,itemHeight:309,padding:0,calculable:false,hoverLink:false,realtime:false,text:null,
    inRange:{color:colorStops},textStyle:{color:'transparent',fontSize:1}}]
});
</script></body></html>
